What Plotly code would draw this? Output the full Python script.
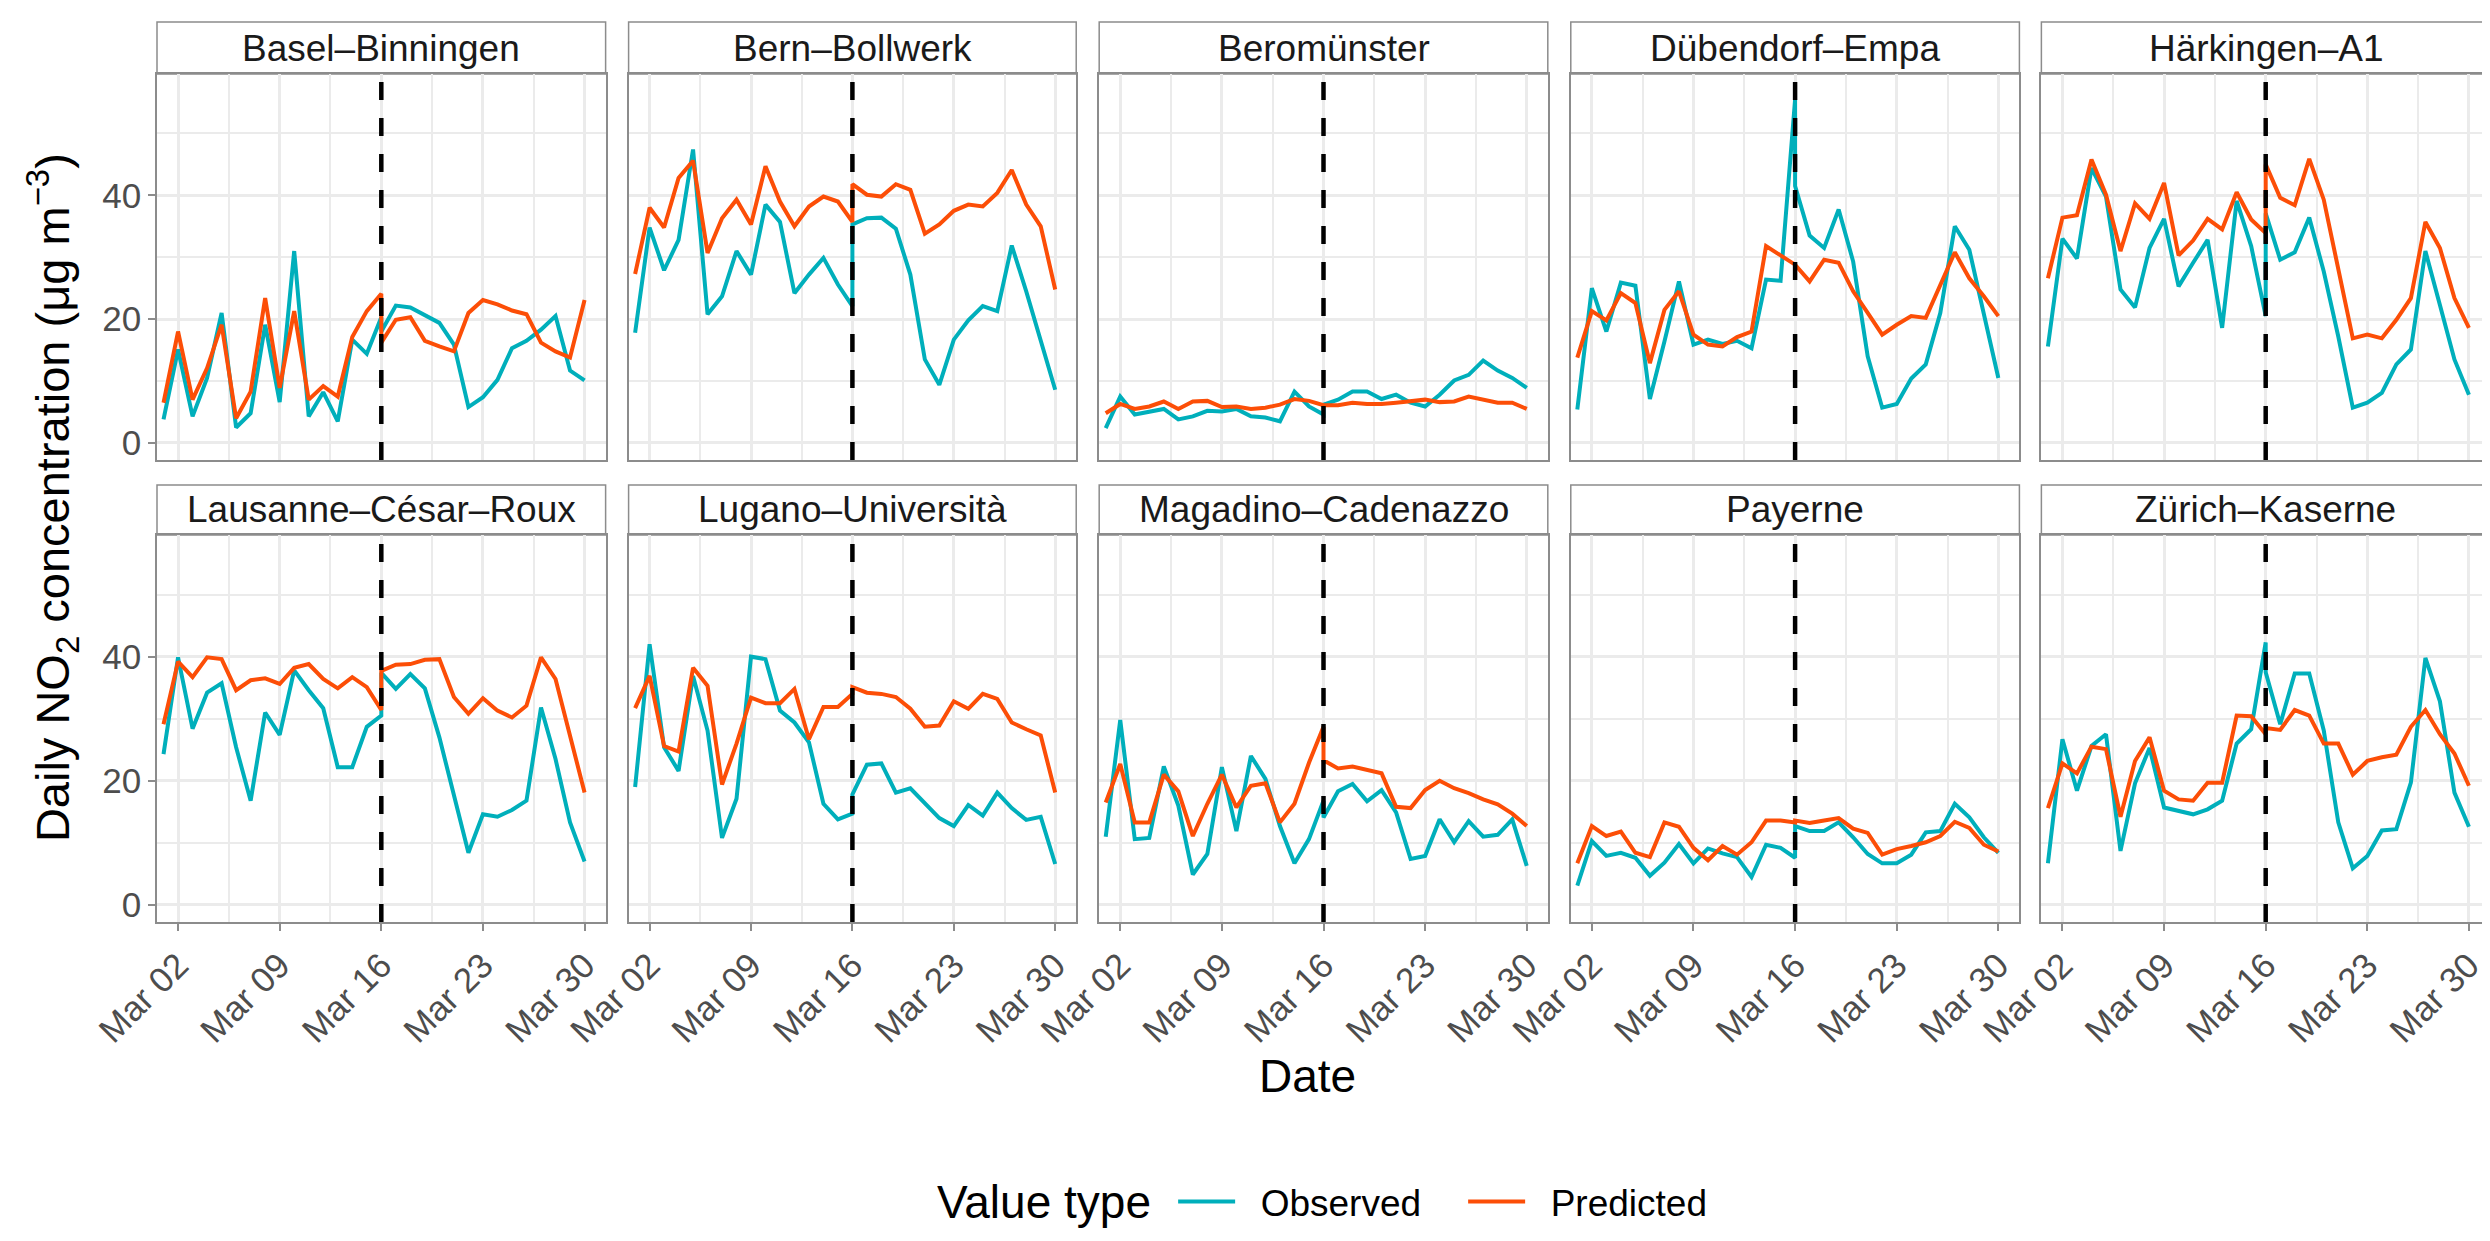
import plotly.graph_objects as go

# ---------------- data ----------------
stations = ["Basel–Binningen", "Bern–Bollwerk", "Beromünster", "Dübendorf–Empa", "Härkingen–A1",
            "Lausanne–César–Roux", "Lugano–Università", "Magadino–Cadenazzo", "Payerne", "Zürich–Kaserne"]

# days: pre-lockdown period Mar 01..Mar 16, post period Mar 16..Mar 30
pre_days = list(range(1, 17))
post_days = list(range(16, 31))
dates = [f"2020-03-{d:02d}" for d in pre_days + post_days]
lockdown_date = "2020-03-16"

observed = {
    "Basel–Binningen": [3.8, 15.1, 4.3, 10.5, 21.0, 2.5, 4.8, 19.1, 6.6, 31.0, 4.3, 8.2, 3.5, 16.7, 14.4, 20.3,
                        18.0, 22.2, 21.9, 20.6, 19.4, 15.9, 5.8, 7.4, 10.2, 15.3, 16.5, 18.3, 20.5, 11.7, 10.1],
    "Bern–Bollwerk": [17.8, 34.8, 27.9, 32.8, 47.4, 20.8, 23.7, 31.0, 27.2, 38.5, 35.7, 24.2, 27.2, 29.9, 25.6, 22.1,
                      35.3, 36.3, 36.4, 34.6, 27.2, 13.5, 9.4, 16.7, 19.8, 22.1, 21.3, 31.9, 24.5, 16.7, 8.6],
    "Beromünster": [2.4, 7.5, 4.6, 5.0, 5.5, 3.8, 4.3, 5.2, 5.1, 5.5, 4.3, 4.1, 3.5, 8.3, 5.9, 4.6,
                    6.2, 7.0, 8.3, 8.3, 7.1, 7.8, 6.5, 5.9, 7.8, 10.1, 11.0, 13.3, 11.7, 10.5, 8.9],
    "Dübendorf–Empa": [5.4, 25.0, 18.0, 25.9, 25.4, 7.1, 16.4, 26.1, 15.9, 16.7, 16.0, 16.5, 15.3, 26.4, 26.2, 55.5,
                       41.5, 33.5, 31.5, 37.7, 29.3, 14.0, 5.7, 6.3, 10.4, 12.7, 21.0, 35.0, 31.2, 20.7, 10.5],
    "Härkingen–A1": [15.6, 33.0, 29.8, 44.4, 39.8, 24.8, 21.9, 31.5, 36.2, 25.3, 29.1, 32.8, 18.6, 39.1, 31.8, 20.5,
                     37.1, 29.6, 30.8, 36.4, 27.7, 17.2, 5.7, 6.5, 8.1, 12.7, 15.1, 31.0, 22.3, 13.5, 7.8],
    "Lausanne–César–Roux": [24.3, 39.9, 28.4, 34.2, 35.7, 25.4, 16.8, 31.0, 27.4, 37.8, 34.6, 31.7, 22.2, 22.2, 28.7, 30.5,
                            37.4, 34.8, 37.2, 34.9, 27.0, 17.8, 8.4, 14.6, 14.2, 15.3, 16.8, 31.8, 23.5, 13.3, 7.0],
    "Lugano–Università": [19.0, 42.0, 25.4, 21.6, 36.9, 28.1, 10.8, 17.1, 40.0, 39.6, 31.3, 29.4, 26.2, 16.3, 13.8, 14.7,
                          17.8, 22.6, 22.8, 18.1, 18.8, 16.3, 14.0, 12.7, 16.1, 14.4, 18.1, 15.6, 13.7, 14.2, 6.6],
    "Magadino–Cadenazzo": [11.0, 29.8, 10.6, 10.8, 22.3, 16.0, 4.9, 8.2, 22.2, 11.9, 24.0, 20.3, 12.7, 6.7, 10.6, 16.8,
                           14.1, 18.3, 19.5, 16.7, 18.5, 14.9, 7.4, 7.9, 13.8, 10.1, 13.5, 11.0, 11.3, 13.8, 6.3],
    "Payerne": [3.1, 10.3, 7.9, 8.4, 7.6, 4.7, 6.8, 9.8, 6.7, 9.1, 8.3, 7.7, 4.5, 9.7, 9.2, 7.6,
                12.7, 11.9, 11.9, 13.3, 10.9, 8.2, 6.7, 6.7, 8.1, 11.7, 11.9, 16.3, 14.1, 10.9, 8.4],
    "Zürich–Kaserne": [6.7, 26.7, 18.4, 25.6, 27.5, 8.7, 19.6, 25.3, 15.7, 15.2, 14.6, 15.4, 16.8, 26.0, 28.3, 42.3,
                       37.5, 29.1, 37.3, 37.3, 28.1, 13.3, 5.9, 7.9, 12.0, 12.2, 19.7, 39.8, 32.8, 18.1, 12.6],
}

predicted = {
    "Basel–Binningen": [6.5, 18.0, 7.0, 12.1, 19.1, 4.0, 8.3, 23.4, 8.9, 21.3, 7.0, 9.2, 7.5, 17.1, 21.3, 24.1,
                        16.2, 19.9, 20.3, 16.5, 15.6, 14.8, 21.0, 23.1, 22.4, 21.4, 20.8, 16.2, 14.8, 13.8, 23.1],
    "Bern–Bollwerk": [27.3, 38.0, 34.8, 42.8, 45.6, 30.7, 36.3, 39.3, 35.3, 44.7, 39.0, 35.0, 38.2, 39.8, 39.0, 35.7,
                      41.8, 40.1, 39.8, 41.8, 40.9, 33.8, 35.3, 37.5, 38.5, 38.2, 40.4, 44.1, 38.5, 35.0, 24.8],
    "Beromünster": [4.8, 6.3, 5.5, 5.9, 6.7, 5.5, 6.7, 6.8, 5.8, 5.9, 5.5, 5.7, 6.2, 7.1, 6.8, 6.1,
                    6.1, 6.1, 6.5, 6.3, 6.3, 6.5, 6.7, 7.0, 6.6, 6.7, 7.5, 7.0, 6.5, 6.5, 5.5],
    "Dübendorf–Empa": [13.8, 21.3, 19.8, 24.2, 22.6, 12.9, 21.5, 24.5, 17.5, 15.9, 15.6, 17.1, 18.0, 31.8, 30.3, 28.8,
                       28.8, 26.1, 29.6, 29.1, 24.5, 21.0, 17.5, 19.1, 20.5, 20.2, 25.6, 30.8, 26.6, 23.7, 20.5],
    "Härkingen–A1": [26.6, 36.4, 36.8, 45.8, 40.1, 31.0, 38.7, 36.2, 42.0, 30.3, 32.7, 36.2, 34.5, 40.5, 36.1, 33.9,
                     45.0, 39.6, 38.4, 45.9, 39.3, 28.2, 16.9, 17.5, 16.9, 19.9, 23.4, 35.7, 31.5, 23.4, 18.6],
    "Lausanne–César–Roux": [29.1, 39.2, 36.7, 39.9, 39.6, 34.6, 36.2, 36.5, 35.6, 38.2, 38.8, 36.4, 34.9, 36.7, 35.1, 31.4,
                            37.7, 38.7, 38.8, 39.5, 39.6, 33.5, 30.8, 33.3, 31.3, 30.2, 32.1, 39.9, 36.4, 27.3, 18.1],
    "Lugano–Università": [31.7, 36.9, 25.6, 24.7, 38.2, 35.3, 19.4, 26.0, 33.4, 32.5, 32.5, 34.8, 26.7, 31.9, 31.9, 34.0,
                          35.1, 34.2, 34.0, 33.5, 31.6, 28.7, 28.9, 32.8, 31.6, 34.0, 33.2, 29.4, 28.3, 27.3, 18.1],
    "Magadino–Cadenazzo": [16.5, 22.7, 13.3, 13.3, 21.0, 18.3, 11.1, 16.3, 21.0, 15.7, 19.2, 19.6, 13.3, 16.3, 22.9, 28.7,
                           23.3, 22.0, 22.3, 21.7, 21.2, 15.8, 15.6, 18.5, 20.0, 18.8, 18.0, 17.0, 16.2, 14.7, 12.7],
    "Payerne": [6.7, 12.7, 11.1, 11.8, 8.4, 7.7, 13.3, 12.6, 9.2, 7.2, 9.5, 8.1, 10.1, 13.6, 13.6, 13.3,
                13.6, 13.2, 13.6, 14.0, 12.3, 11.6, 8.1, 9.0, 9.5, 10.1, 11.1, 13.4, 12.4, 9.7, 8.6],
    "Zürich–Kaserne": [15.6, 22.8, 21.2, 25.5, 25.1, 14.2, 23.2, 27.0, 18.4, 17.0, 16.8, 19.7, 19.7, 30.5, 30.4, 27.5,
                       28.5, 28.2, 31.4, 30.5, 26.0, 26.0, 21.0, 23.2, 23.8, 24.2, 28.7, 31.4, 27.5, 24.4, 19.2],
}

y_ticks = [0, 20, 40]
x_tick_labels = ["Mar 02", "Mar 09", "Mar 16", "Mar 23", "Mar 30"]
x_tick_dates = ["2020-03-02", "2020-03-09", "2020-03-16", "2020-03-23", "2020-03-30"]
series_names = ["Observed", "Predicted"]

# ---------------- styling / layout ----------------
COL_OBS = "#00AFBB"
COL_PRED = "#FC4E07"
FONT = "Liberation Sans, Arial, sans-serif"
GRID = "#EBEBEB"
BORDER = "#8C8C8C"
NB = "\u00a0"

W, H = 2490, 1241
ML, MR, MT, MB = 149, 6, 14, 327
PW = W - ML - MR
PH = H - MT - MB


def fx(px):
    return (px - ML) / PW


def fy(py):
    return (H - MB - py) / PH


cols = [(149, 598), (621, 1069), (1092, 1541), (1564, 2013), (2035, 2484)]
rows = [(66, 452), (527, 914)]
strips = [(14, 66), (477, 527)]

x_range = ["2020-02-29 13:12", "2020-03-31 10:48"]
y_range = [-2.75, 59.6]
DAY_MS = 86400000

fig = go.Figure()
layout = dict(
    width=W, height=H,
    margin=dict(l=ML, r=MR, t=MT, b=MB),
    paper_bgcolor="white", plot_bgcolor="white",
    font=dict(family=FONT, color="#1A1A1A"),
    shapes=[], annotations=[],
)

for i, st in enumerate(stations):
    r, c = divmod(i, 5)
    n = i + 1
    xa = "x" if n == 1 else f"x{n}"
    ya = "y" if n == 1 else f"y{n}"
    xkey = "xaxis" if n == 1 else f"xaxis{n}"
    ykey = "yaxis" if n == 1 else f"yaxis{n}"
    c0, c1 = cols[c]
    rt, rb = rows[r]
    layout[xkey] = dict(
        domain=[fx(c0), fx(c1)], anchor=ya, type="date", range=x_range,
        tickvals=x_tick_dates, ticktext=x_tick_labels, showticklabels=(r == 1),
        tickangle=-45, tickfont=dict(size=35, color="#4D4D4D", family=FONT),
        ticks="outside" if r == 1 else "", ticklen=7, tickwidth=1.5, tickcolor=BORDER,
        showgrid=True, gridcolor=GRID, gridwidth=3,
        minor=dict(dtick=3.5 * DAY_MS, tick0="2020-03-02", showgrid=True, gridcolor=GRID, gridwidth=1.5),
        showline=True, mirror=True, linecolor=BORDER, linewidth=1.5, zeroline=False,
    )
    layout[ykey] = dict(
        domain=[fy(rb), fy(rt)], anchor=xa, range=y_range,
        tickvals=y_ticks, showticklabels=(c == 0),
        tickfont=dict(size=35, color="#4D4D4D", family=FONT),
        ticks="outside" if c == 0 else "", ticklen=7, tickwidth=1.5, tickcolor=BORDER,
        showgrid=True, gridcolor=GRID, gridwidth=3,
        minor=dict(dtick=10, tick0=0, showgrid=True, gridcolor=GRID, gridwidth=1.5),
        showline=True, mirror=True, linecolor=BORDER, linewidth=1.5, zeroline=False,
    )
    # series
    fig.add_trace(go.Scatter(x=dates, y=observed[st], mode="lines", name=NB * 2 + series_names[0],
                             line=dict(color=COL_OBS, width=4), legendgroup="obs",
                             showlegend=(i == 0), xaxis=xa, yaxis=ya))
    fig.add_trace(go.Scatter(x=dates, y=predicted[st], mode="lines", name=NB * 2 + series_names[1],
                             line=dict(color=COL_PRED, width=4), legendgroup="pred",
                             showlegend=(i == 0), xaxis=xa, yaxis=ya))
    # lockdown date
    layout["shapes"].append(dict(type="line", xref=xa, yref=f"{ya} domain",
                                 x0=lockdown_date, x1=lockdown_date, y0=0, y1=1,
                                 line=dict(color="black", width=4.5, dash="18px,18px"), layer="above"))
    # strip
    s0, s1 = strips[r]
    layout["shapes"].append(dict(type="rect", xref="paper", yref="paper",
                                 x0=fx(c0), x1=fx(c1), y0=fy(s1), y1=fy(s0),
                                 line=dict(color=BORDER, width=1.5), fillcolor="white", layer="below"))
    layout["annotations"].append(dict(text=st, xref="paper", yref="paper",
                                      x=(fx(c0) + fx(c1)) / 2, y=(fy(s0) + fy(s1)) / 2,
                                      xanchor="center", yanchor="middle", showarrow=False,
                                      font=dict(size=37, color="#1A1A1A", family=FONT)))

layout["annotations"].append(dict(
    text="Daily NO<sub>2</sub> concentration (μg m<sup>−3</sup>)", textangle=-90,
    xref="paper", yref="paper", x=fx(44), y=fy(490), xanchor="center", yanchor="middle",
    showarrow=False, font=dict(size=47, color="black", family=FONT)))
layout["annotations"].append(dict(
    text="Date", xref="paper", yref="paper", x=fx(1300), y=fy(1068),
    xanchor="center", yanchor="middle", showarrow=False,
    font=dict(size=46, color="black", family=FONT)))
# legend title
layout["annotations"].append(dict(
    text="Value type", xref="paper", yref="paper", x=fx(1146), y=fy(1194),
    xanchor="right", yanchor="middle", showarrow=False,
    font=dict(size=46, color="black", family=FONT)))

layout["legend"] = dict(
    orientation="h", x=fx(1166), xanchor="left", y=fy(1194), yanchor="middle",
    font=dict(size=37, color="black", family=FONT), itemwidth=57,
    entrywidth=218, entrywidthmode="pixels", bgcolor="rgba(0,0,0,0)",
)

fig.update_layout(**layout)
fig.write_html("out.html")
